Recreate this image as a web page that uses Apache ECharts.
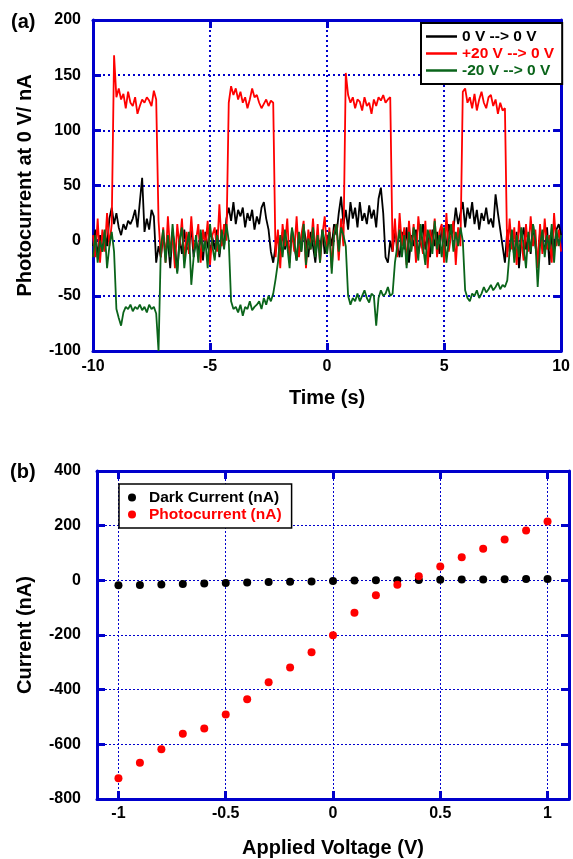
<!DOCTYPE html>
<html>
<head>
<meta charset="utf-8">
<script src="https://cdn.jsdelivr.net/npm/echarts@6/dist/echarts.min.js"></script>
<style>
  html, body { margin: 0; padding: 0; background: #fff; }
  #main { width: 573px; height: 859px; }
</style>
</head>
<body>
<div id="main"></div>
<script>
// ---- panel (a): photocurrent vs time, sampled every 0.1 s from -10 s to 10 s ----
const t0 = -10, dt = 0.1;
const darkTrace = [
  -5, 10, -15, 5, -10, 8, -5, 20,
  30, 15, 25, 12, 5, 15, 10, 18, 15, 20, 28, 12, 35, 57, 8, 20, 10, 28, 22,
  -20, -5, -15, 5, -10, 0, -25, 8, -5, -28, 2, -12, 10, -8, -5, 12, -15, 0, -10, 5, -18, 8, -5, -12, 3, -8, 10, -15, 5, -5,
  20, 30, 18, 35, 15, 28, 22, 30, 12, 25, 18, 28, 10, 22, 15, 30, 35, 20, 10,
  -10, -20, -5, 5, -15, 8, -8, 0, -12, 10, -5, -18, 5, -10, 12, 0, -15, 8, -5, -20, 5, -8, 10, -12, 0, 8, -5, 15, 5,
  25, 40, 15, 28, 10, 35, 20, 30, 12, 35, 18, 25, 15, 32, 20, 28, 12, 38, 48, 25,
  -15, -20, 0, -10, 10, -5, -15, 8, -8, 12, -20, 5, -5, 10, -12, 0, 15, -8, 5, -15, 10, -5, 8, -12, 12, 0, -5, 15, 5, 10,
  30, 15, 25, 35, 12, 30, 20, 35, 15, 28, 10, 25, 18, 30, 15, 20, 12, 42, 25, 10,
  -5, -20, 10, -10, 5, -15, 8, -25, 0, 12, -8, 5, -12, 15, -5, -18, 8, 0, -10, 12, -22, 5, -8, 10, 15, 5
];
const plusTrace = [
  5, -15, 20, -20, 10, -10, 25, -5, 15,
  168, 130, 138, 128, 133, 120, 135, 125, 122, 130, 115, 122, 128, 125, 130, 127, 122, 136, 128,
  18, -15, 12, -20, 22, -10, 5, -25, 15, -5, 20, -18, 8, -12, 22, -8, 0, 15, -20, 10, -5, 18, -22, 5, 12, -10, 33, -5, 15, 0,
  125, 140, 132, 138, 128, 135, 125, 130, 120, 128, 138, 130, 132, 125, 120, 124, 128, 122, 127, 125,
  -15, 10, -25, 15, -5, 20, -20, 8, -10, 22, -15, 5, 18, -25, 10, -8, 20, -12, 15, -20, 5, 22, -10, 12, -25, 8, 15, -18, 20, -5,
  152, 132, 125, 130, 120, 128, 126, 118, 130, 122, 125, 115, 128, 122, 130, 127, 132, 125, 128, 130,
  -10, 20, -15, 25, -5, 12, -22, 18, -8, 15, -20, 22, 0, -12, 18, -25, 10, -5, 20, -15, 8, 15, -20, 25, -10, 5, 18, -22, 12, -5,
  135, 138, 125, 130, 120, 133, 118, 128, 135, 125, 120, 130, 132, 122, 128, 115, 125, 118, 120,
  -15, 20, -8, 12, -22, 18, 0, -18, 15, -10, 22, -5, 10, -25, 15, -12, 20, -8, 5, -20, 25, -5, 10, -10
];
const minusTrace = [
  -15, 5, -20, 0, -10, 10, -25, -5, 8, -10,
  -62, -70, -77, -65, -60, -62, -58, -64, -60, -62, -58, -63, -60, -65, -58, -62, -60, -66, -100,
  -5, 10, -20, 5, -15, 15, -10, -30, 0, 12, -25, -5, 8, -40, -15, 5, -20, 10, -10, 0, -25, 15, -5, -18, 5, -12, 10, -8, 15, 0,
  -55, -62, -60, -65, -58, -68, -60, -62, -55, -63, -60, -58, -55, -62, -52, -58, -50, -55, -48, -35,
  -20, 5, -15, 10, -5, -25, 12, 0, -18, 8, -10, 15, -22, 2, -8, 12, -15, 5, -20, 10, 0, -12, 8, -30, 5, 15, -10, 12, 5, -5,
  -50, -58, -52, -55, -48, -55, -50, -45, -52, -56, -48, -50, -77, -52, -45, -50, -48, -42, -50, -48,
  -20, -5, 10, -15, 5, -25, 8, -10, 12, 0, -18, 15, -5, -22, 10, 2, -12, 18, -8, 5, -15, 12, -20, 0, 15, -10, 8, -5, 12, 0,
  -45, -52, -55, -48, -50, -45, -52, -48, -42, -47, -44, -40, -45, -42, -38, -44, -40, -42, -36,
  -10, 10, -20, 5, -15, 12, -5, -25, 8, -10, 15, 0, -42, -5, 10, -15, 5, -8, 15, -20, 10, -5, 5
];
const traceNames = ['0 V --> 0 V', '+20 V --> 0 V', '-20 V --> 0 V'];

// ---- panel (b): I-V ----
const voltages = [-1, -0.9, -0.8, -0.7, -0.6, -0.5, -0.4, -0.3, -0.2, -0.1, 0, 0.1, 0.2, 0.3, 0.4, 0.5, 0.6, 0.7, 0.8, 0.9, 1];
const darkCurrent = [-18, -17, -15, -13, -12, -10, -8, -6, -5, -4, -2, -1, 0, 0, 1, 2, 3, 3, 4, 5, 5];
const photoCurrent = [-724, -667, -618, -561, -542, -491, -435, -373, -319, -263, -201, -119, -55, -16, 15, 51, 84, 116, 149, 182, 215];
const voltTicks = [-1, -0.5, 0, 0.5, 1];

const BLUE = '#0000cc';
const FONT = "'Liberation Sans', Arial, sans-serif";
const GREEN = '#0a641a';

function pairs(vals) {
  return vals.map((v, i) => [+(t0 + i * dt).toFixed(1), v]);
}

function frameAxis(extra, grid, labels) {
  return Object.assign({
    gridIndex: grid,
    type: 'value',
    axisLine: { show: true, onZero: false, lineStyle: { color: BLUE, width: 3 } },
    axisTick: { show: true, inside: true, length: 8, lineStyle: { color: BLUE, width: 3 } },
    axisLabel: { show: labels, color: '#000', fontFamily: FONT, fontWeight: 'bold', fontSize: 16 },
    splitLine: { show: false }
  }, extra);
}

const gridA = { lineStyle: { color: BLUE, width: 2, type: [2, 3] } };
const gridB = { lineStyle: { color: BLUE, width: 1, type: [2, 2] } };
const titleStyle = { color: '#000', fontFamily: FONT, fontWeight: 'bold', fontSize: 20 };

const chart = echarts.init(document.getElementById('main'));
chart.setOption({
  animation: false,
  backgroundColor: '#fff',
  grid: [
    { left: 93, top: 20, width: 475, height: 331 },
    { left: 97, top: 471, width: 472, height: 329 }
  ],
  graphic: [
    { type: 'text', left: 11, top: 12, style: { text: '(a)', font: 'bold 20px ' + FONT, fill: '#000' } },
    { type: 'text', left: 10, top: 462, style: { text: '(b)', font: 'bold 20px ' + FONT, fill: '#000' } }
  ],
  xAxis: [
    frameAxis({ position: 'bottom', min: -10, max: 10, interval: 5,
      axisLabel: { show: true, margin: 8, color: '#000', fontFamily: FONT, fontWeight: 'bold', fontSize: 16 },
      splitLine: Object.assign({ show: true }, gridA),
      name: 'Time (s)', nameLocation: 'middle', nameGap: 37, nameTextStyle: titleStyle }, 0, true),
    frameAxis({ position: 'top', min: -10, max: 10, interval: 5 }, 0, false),
    frameAxis({ position: 'bottom', min: -1.1, max: 1.1,
      axisTick: { show: true, inside: true, length: 8, customValues: voltTicks, lineStyle: { color: BLUE, width: 3 } },
      axisLabel: { show: true, margin: 7, customValues: voltTicks, color: '#000', fontFamily: FONT, fontWeight: 'bold', fontSize: 16 },
      splitLine: Object.assign({ show: true }, gridB),
      name: 'Applied Voltage (V)', nameLocation: 'middle', nameGap: 39, nameTextStyle: titleStyle }, 1, true),
    frameAxis({ position: 'top', min: -1.1, max: 1.1,
      axisTick: { show: true, inside: true, length: 8, customValues: voltTicks, lineStyle: { color: BLUE, width: 3 } } }, 1, false)
  ],
  yAxis: [
    frameAxis({ position: 'left', min: -100, max: 200, interval: 50,
      axisLabel: { show: true, margin: 12, color: '#000', fontFamily: FONT, fontWeight: 'bold', fontSize: 16 },
      splitLine: Object.assign({ show: true }, gridA),
      name: 'Photocurrent at 0 V/ nA', nameLocation: 'middle', nameGap: 58, nameRotate: 90, nameTextStyle: titleStyle }, 0, true),
    frameAxis({ position: 'right', min: -100, max: 200, interval: 50 }, 0, false),
    frameAxis({ position: 'left', min: -800, max: 400, interval: 200,
      axisLabel: { show: true, margin: 16, color: '#000', fontFamily: FONT, fontWeight: 'bold', fontSize: 16 },
      splitLine: Object.assign({ show: true }, gridB),
      name: 'Current (nA)', nameLocation: 'middle', nameGap: 62, nameRotate: 90, nameTextStyle: titleStyle }, 1, true),
    frameAxis({ position: 'right', min: -800, max: 400, interval: 200 }, 1, false)
  ],
  legend: [
    {
      data: [
        { name: traceNames[0], textStyle: { color: '#000' } },
        { name: traceNames[1], textStyle: { color: '#ff0000' } },
        { name: traceNames[2], textStyle: { color: GREEN } }
      ],
      orient: 'vertical', left: 421, top: 23,
      icon: 'rect', itemWidth: 31, itemHeight: 2.5, itemGap: 0,
      padding: [5, 8, 5, 5],
      backgroundColor: '#fff', borderColor: '#000', borderWidth: 2,
      textStyle: { fontFamily: FONT, fontWeight: 'bold', fontSize: 15.5, lineHeight: 17 }
    },
    {
      data: [
        { name: 'Dark Current (nA)', textStyle: { color: '#000' } },
        { name: 'Photocurrent (nA)', textStyle: { color: '#ff0000' } }
      ],
      orient: 'vertical', left: 119, top: 484,
      icon: 'circle', itemWidth: 24, itemHeight: 8, itemGap: 0,
      padding: [5, 10, 5, 9],
      backgroundColor: '#fff', borderColor: '#000', borderWidth: 1.5,
      textStyle: { fontFamily: FONT, fontWeight: 'bold', fontSize: 15.5, lineHeight: 17 }
    }
  ],
  series: [
    { name: traceNames[0], type: 'line', xAxisIndex: 0, yAxisIndex: 0, data: pairs(darkTrace),
      showSymbol: false, color: '#000', lineStyle: { width: 1.8, color: '#000' } },
    { name: traceNames[1], type: 'line', xAxisIndex: 0, yAxisIndex: 0, data: pairs(plusTrace),
      showSymbol: false, color: '#ff0000', lineStyle: { width: 1.8, color: '#ff0000' } },
    { name: traceNames[2], type: 'line', xAxisIndex: 0, yAxisIndex: 0, data: pairs(minusTrace),
      showSymbol: false, color: GREEN, lineStyle: { width: 1.8, color: GREEN } },
    { name: 'Dark Current (nA)', type: 'scatter', xAxisIndex: 2, yAxisIndex: 2,
      data: voltages.map((v, i) => [v, darkCurrent[i]]), symbolSize: 8, itemStyle: { color: '#000', opacity: 1 } },
    { name: 'Photocurrent (nA)', type: 'scatter', xAxisIndex: 2, yAxisIndex: 2,
      data: voltages.map((v, i) => [v, photoCurrent[i]]), symbolSize: 8, itemStyle: { color: '#ff0000', opacity: 1 } }
  ]
});
</script>
</body>
</html>
